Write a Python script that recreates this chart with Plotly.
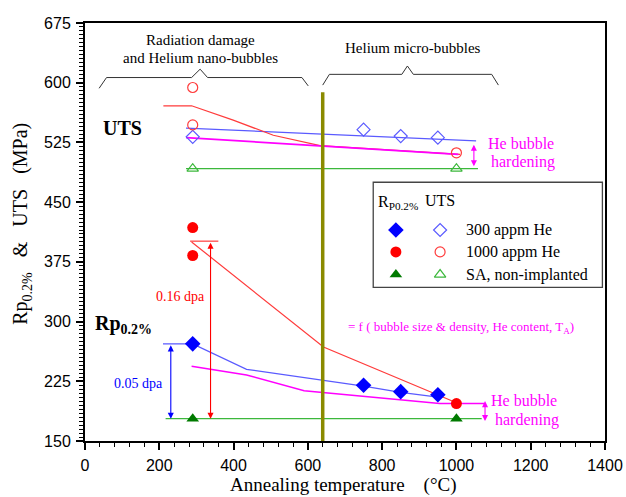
import plotly.graph_objects as go

# ---- measured strengths (MPa) vs annealing temperature (°C) ----
temps_300 = [290, 750, 850, 950]
rp_300 = [272, 220, 212, 208]
uts_300 = [532, 541, 533, 531]

temps_1000 = [290, 290, 1000]
rp_1000 = [418, 383, 197]
uts_1000 = [594, 547, 512]

temps_sa = [290, 1000]
rp_sa = [178, 178]
uts_sa = [492, 492]

# ---- guide / trend lines ----
uts_blue_x, uts_blue_y = [272, 1053], [543, 527]
uts_mag_x, uts_mag_y = [272, 640, 1005], [531, 520, 510]
uts_red_x = [211, 287, 399, 507, 633, 1010]
uts_red_y = [571, 571, 553, 534, 521, 510]
uts_green_x, uts_green_y = [272, 1058], [492, 492]

rp_blue_x = [210, 290, 435, 750, 850, 950]
rp_blue_y = [272, 272, 240, 219, 211, 205]
rp_red_x, rp_red_y = [287, 642, 1000], [400, 268, 198]
rp_red_cap_x, rp_red_cap_y = [283, 359], [401, 401]
rp_mag_x = [287, 435, 590, 955, 1075]
rp_mag_y = [244, 233, 213, 197, 197]
rp_green_x, rp_green_y = [217, 1068], [178, 178]

boundary_T = 640  # nano-bubble / micro-bubble boundary

x_ticks = [0, 200, 400, 600, 800, 1000, 1200, 1400]
y_ticks = [150, 225, 300, 375, 450, 525, 600, 675]

BLUE, BLUE_L = "#0000ff", "#5a5aff"
RED, RED_L = "#ff0000", "#ff3b3b"
GREEN, GREEN_L = "#007a00", "#3cb83c"
MAG = "#ff00ff"
SERIF = "Liberation Serif"
SANS = "Liberation Sans"

fig = go.Figure()


def line(x, y, color, width=1.2):
    fig.add_trace(go.Scatter(x=x, y=y, mode="lines", showlegend=False,
                             line=dict(color=color, width=width), hoverinfo="skip"))


def pts(x, y, symbol, color, size, filled):
    if filled:
        marker = dict(symbol=symbol, size=size, color=color, line=dict(width=0))
    else:
        marker = dict(symbol=symbol + "-open", size=size, color=color, line=dict(width=1.2, color=color))
    fig.add_trace(go.Scatter(x=x, y=y, mode="markers", showlegend=False, marker=marker))


# guide lines
line(uts_blue_x, uts_blue_y, BLUE_L)
line(uts_red_x, uts_red_y, RED_L)
line(uts_mag_x, uts_mag_y, MAG, 1.7)
line(uts_green_x, uts_green_y, GREEN_L)
line(rp_blue_x, rp_blue_y, BLUE_L)
line(rp_red_x, rp_red_y, RED_L)
line(rp_red_cap_x, rp_red_cap_y, RED_L)
line(rp_mag_x, rp_mag_y, MAG, 1.5)
line(rp_green_x, rp_green_y, GREEN_L)

# boundary line
line([boundary_T, boundary_T], [150, 588], "#8a8a00", 3.5)

# data points
pts(temps_300, uts_300, "diamond", BLUE_L, 10, False)
pts(temps_1000, uts_1000, "circle", RED_L, 10, False)
pts(temps_sa, uts_sa, "triangle-up", GREEN_L, 10, False)
pts(temps_300, rp_300, "diamond", BLUE, 12, True)
pts(temps_1000, rp_1000, "circle", RED, 11, True)
pts(temps_sa, rp_sa, "triangle-up", GREEN, 11, True)

# ---- legend drawn inside the plot ----
leg_rows_y = [415, 387.5, 359]
leg_filled_x, leg_open_x, leg_text_x = 837, 956, 1021
leg_labels = ["300 appm He", "1000 appm He", "SA, non-implanted"]
leg_syms = ["diamond", "circle", "triangle-up"]
leg_cols = [(BLUE, BLUE_L), (RED, RED_L), (GREEN, GREEN_L)]
leg_sizes = [(12, 10), (11, 10), (11, 10)]
for yy, sym, (cf, co), (sf, so) in zip(leg_rows_y, leg_syms, leg_cols, leg_sizes):
    pts([leg_filled_x], [yy], sym, cf, sf, True)
    pts([leg_open_x], [yy], sym, co, so, False)

shapes = [
    dict(type="rect", xref="x", yref="y", x0=776, x1=1393, y0=343, y1=475,
         line=dict(color="#444444", width=1.3), fillcolor="rgba(0,0,0,0)"),
    # bracket marks above the two temperature regions
    dict(type="path", xref="x", yref="y",
         path="M38,593 L58,606.5 L287,606.5 L310,617 L330,606.5 L584,606.5 L601,596",
         line=dict(color="#333333", width=1)),
    dict(type="path", xref="x", yref="y",
         path="M640,597 L658,610.5 L853,610.5 L868,621 L884,610.5 L1095,610.5 L1113,597",
         line=dict(color="#333333", width=1)),
]

annotations = []


def text(x, y, s, size, color="black", family=SERIF, xanchor="center", yanchor="middle"):
    annotations.append(dict(x=x, y=y, xref="x", yref="y", text=s, showarrow=False,
                            font=dict(size=size, color=color, family=family),
                            xanchor=xanchor, yanchor=yanchor))


def arrow(x, y0, y1, color):
    annotations.append(dict(x=x, y=y1, ax=x, ay=y0, xref="x", yref="y", axref="x", ayref="y",
                            text="", showarrow=True, arrowhead=2, arrowside="end+start",
                            arrowsize=1.1, arrowwidth=1.1, arrowcolor=color,
                            standoff=0, startstandoff=0))


for yy, lab in zip(leg_rows_y, leg_labels):
    text(leg_text_x, yy, lab, 16, xanchor="left")
text(784, 449, "R<sub>P0.2%</sub>", 16, xanchor="left")
text(957, 452, "UTS", 16)

text(310, 654, "Radiation damage", 15)
text(310, 631, "and Helium nano-bubbles", 15)
text(882, 643, "Helium micro-bubbles", 15)

text(101, 543, "<b>UTS</b>", 20)
text(104, 296, "<b>Rp<sub>0.2%</sub></b>", 20)

text(256, 332, "0.16 dpa", 14, RED)
text(143, 222, "0.05 dpa", 14, BLUE)

text(1173, 524, "He bubble", 16, MAG)
text(1180, 500, "hardening", 16, MAG)
text(1183, 201, "He bubble", 16, MAG)
text(1190, 177, "hardening", 16, MAG)
text(1011, 293, "= f ( bubble size &amp; density, He content, T<sub>A</sub>)", 13, MAG)

arrow(338, 401, 178, RED)
arrow(231, 272, 178, BLUE)
arrow(1047, 524, 495, MAG)
arrow(1077, 202, 175, MAG)

# axis titles
annotations.append(dict(x=-0.121, y=0.52, xref="paper", yref="paper", textangle=-90,
                        text="Rp<sub>0.2%</sub>\u00a0\u00a0\u00a0&amp;\u00a0\u00a0\u00a0UTS\u00a0\u00a0\u00a0(MPa)",
                        showarrow=False, font=dict(size=20, family=SERIF, color="black"),
                        xanchor="center", yanchor="middle"))
annotations.append(dict(x=0.497, y=-0.134, xref="paper", yref="paper", borderpad=0,
                        text="Annealing temperature\u00a0\u00a0\u00a0\u00a0(°C)",
                        showarrow=False, font=dict(size=19, family=SERIF, color="black"),
                        xanchor="center", yanchor="bottom"))

axis_common = dict(showline=True, linecolor="black", linewidth=2, mirror=True,
                   ticks="outside", tickcolor="black", tickwidth=1.5, ticklen=7,
                   showgrid=False, zeroline=False, automargin=False,
                   tickfont=dict(family=SANS, size=16, color="black"))

fig.update_layout(
    width=626, height=497,
    margin=dict(l=85, r=21, t=23, b=56),
    paper_bgcolor="white", plot_bgcolor="white",
    showlegend=False,
    shapes=shapes, annotations=annotations,
    xaxis=dict(range=[0, 1400], tickvals=x_ticks, ticklabelstandoff=2,
               minor=dict(dtick=40, tick0=0, ticks="outside", ticklen=4, tickcolor="black", tickwidth=1),
               **axis_common),
    yaxis=dict(range=[150, 675], tickvals=y_ticks, ticklabelstandoff=2,
               minor=dict(dtick=5, tick0=150, ticks="outside", ticklen=4, tickcolor="black", tickwidth=1),
               **axis_common),
)

fig.write_html("out.html")
